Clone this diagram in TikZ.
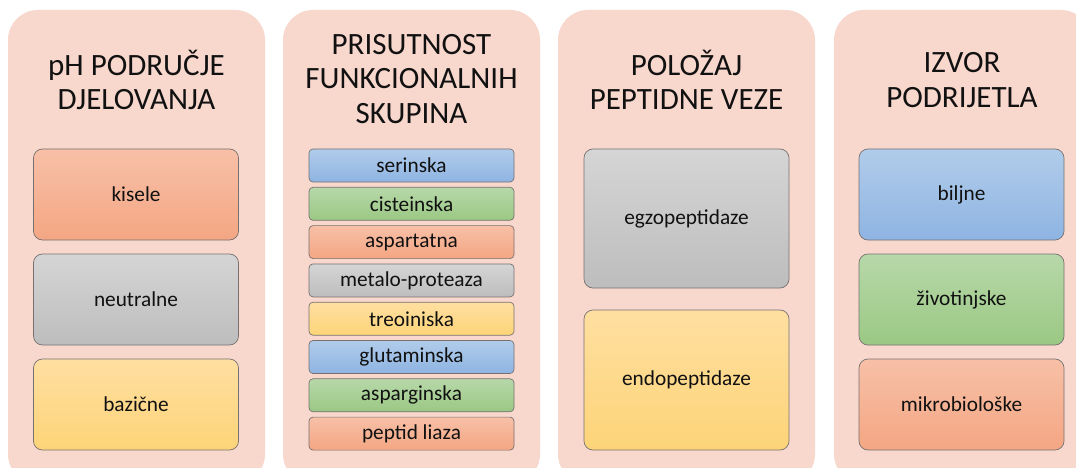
\documentclass[tikz,border=0pt]{standalone}
\usepackage{fontspec}
\setmainfont{Carlito}
\definecolor{panelbg}{HTML}{F8D7CD}
\definecolor{boxline}{HTML}{767171}
\definecolor{orT}{HTML}{F7C0A7}
\definecolor{orB}{HTML}{F4A683}
\definecolor{grT}{HTML}{D5D5D5}
\definecolor{grB}{HTML}{BDBDBD}
\definecolor{yeT}{HTML}{FFDFA1}
\definecolor{yeB}{HTML}{FDD478}
\definecolor{blT}{HTML}{B1CCEA}
\definecolor{blB}{HTML}{8EB4E2}
\definecolor{gnT}{HTML}{B7D8A9}
\definecolor{gnB}{HTML}{9BC884}
\definecolor{txt}{HTML}{111111}
\begin{document}
\begin{tikzpicture}[x=1pt,y=-1pt,
  panel/.style={fill=panelbg, rounded corners=30pt, minimum width=257pt, minimum height=474pt, inner sep=0pt},
  title/.style={font=\fontsize{31}{34.5}\selectfont, align=center, text=txt},
  bigbox/.style={draw=boxline, line width=0.7pt, rounded corners=9pt, minimum width=205pt, minimum height=91pt, inner sep=0pt, font=\fontsize{21.3}{24}\selectfont, text=txt},
  smallbox/.style={draw=boxline, line width=0.7pt, rounded corners=4pt, minimum width=205pt, minimum height=33pt, inner sep=0pt, font=\fontsize{21.3}{24}\selectfont, text=txt},
  orF/.style={top color=orT, bottom color=orB},
  grF/.style={top color=grT, bottom color=grB},
  yeF/.style={top color=yeT, bottom color=yeB},
  blF/.style={top color=blT, bottom color=blB},
  gnF/.style={top color=gnT, bottom color=gnB}]
\clip (0,0) rectangle (1076,468);
\fill[white] (0,0) rectangle (1076,468);
% panels
\node[panel] (p1) at (136.5,247) {};
\node[panel] (p2) at (411.5,247) {};
\node[panel] (p3) at (686.5,247) {};
\node[panel] (p4) at (962.5,247) {};
% titles
\node[title] (t1) at (136.5,80) {pH PODRUČJE\\DJELOVANJA};
\node[title] (t2) at (411.5,79) {PRISUTNOST\\FUNKCIONALNIH\\SKUPINA};
\node[title] (t3) at (686.5,80) {POLOŽAJ\\PEPTIDNE VEZE};
\node[title] (t4) at (962,80) {IZVOR\\PODRIJETLA};
% column 1
\node[bigbox,orF] (kis) at (136,194.5) {kisele};
\node[bigbox,grF] (neu) at (136,299.5) {neutralne};
\node[bigbox,yeF] (baz) at (136,404.5) {bazične};
% column 2
\node[smallbox,blF] (ser) at (411.5,165.5) {serinska};
\node[smallbox,gnF] (cis) at (411.5,203.8) {cisteinska};
\node[smallbox,orF] (asp) at (411.5,242.1) {aspartatna};
\node[smallbox,grF] (met) at (411.5,280.4) {metalo-proteaza};
\node[smallbox,yeF] (tre) at (411.5,318.7) {treoiniska};
\node[smallbox,blF] (glu) at (411.5,357.0) {glutaminska};
\node[smallbox,gnF] (asg) at (411.5,395.3) {asparginska};
\node[smallbox,orF] (pep) at (411.5,433.6) {peptid liaza};
% column 3
\node[bigbox,grF,minimum height=139pt] (egz) at (686.5,218.5) {egzopeptidaze};
\node[bigbox,yeF,minimum height=140pt] (end) at (686.5,380) {endopeptidaze};
% column 4
\node[bigbox,blF] (bil) at (961.5,194.5) {biljne};
\node[bigbox,gnF] (ziv) at (961.5,299.5) {životinjske};
\node[bigbox,orF] (mik) at (961.5,404.5) {mikrobiološke};
\end{tikzpicture}
\end{document}
